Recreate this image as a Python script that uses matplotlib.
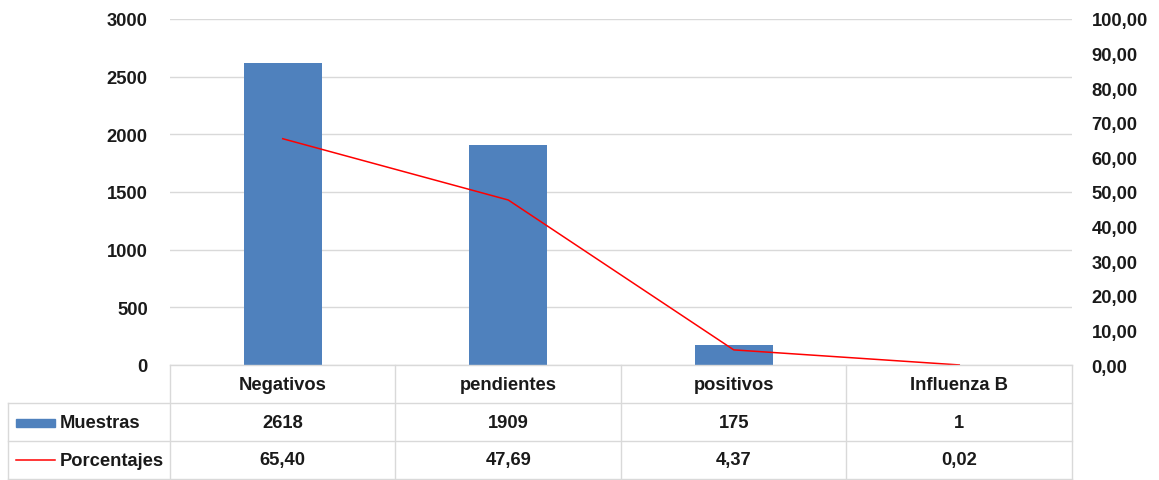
import matplotlib
matplotlib.use("Agg")
import matplotlib.pyplot as plt
from matplotlib.patches import Rectangle
from matplotlib.ticker import FuncFormatter, MultipleLocator

categories = ["Negativos", "pendientes", "positivos", "Influenza B"]
muestras = [2618, 1909, 175, 1]
porcentajes = [65.40, 47.69, 4.37, 0.02]
muestras_labels = ["2618", "1909", "175", "1"]
porcentajes_labels = ["65,40", "47,69", "4,37", "0,02"]
series_names = ["Muestras", "Porcentajes"]

W, H = 1159, 481
plt.rcParams['font.family'] = ['Liberation Sans', 'DejaVu Sans']
fig = plt.figure(figsize=(W / 100, H / 100), dpi=100)

px_l, px_r, px_t, px_b = 170, 1072, 20, 366
ax = fig.add_axes([px_l / W, 1 - px_b / H, (px_r - px_l) / W, (px_b - px_t) / H])
x = list(range(len(categories)))
bar_color = "#4F81BD"
line_color = "#FF0000"
grid_color = "#D9D9D9"
txt_color = "#1a1a1a"
fs = 13.2

ax.bar(x, muestras, width=0.345, color=bar_color, zorder=3)
ax.set_xlim(-0.5, len(categories) - 0.5)
ax.set_ylim(0, 3000)
ax.yaxis.set_major_locator(MultipleLocator(500))
ax.grid(axis="y", color=grid_color, linewidth=1, zorder=0)
ax.set_xticks([])
for s in ax.spines.values():
    s.set_visible(False)
ax.tick_params(axis="y", length=0, pad=16, labelsize=fs, labelcolor=txt_color)
for lbl in ax.get_yticklabels():
    lbl.set_fontweight("bold")

ax2 = ax.twinx()
ax2.plot(x, porcentajes, color=line_color, linewidth=1.1, zorder=4)
ax2.set_ylim(0, 100)
ax2.yaxis.set_major_locator(MultipleLocator(10))
ax2.yaxis.set_major_formatter(FuncFormatter(lambda v, p: f"{v:.2f}".replace(".", ",")))
for s in ax2.spines.values():
    s.set_visible(False)
ax2.tick_params(axis="y", length=0, pad=14, labelsize=fs, labelcolor=txt_color)
for lbl in ax2.get_yticklabels():
    lbl.set_fontweight("bold")

# Data table
tbl_l, tbl_t, tbl_b = 8, 366, 480
colw = (px_r - px_l) / len(categories)
x0 = -0.5 - (px_l - tbl_l) / colw
tax = fig.add_axes([tbl_l / W, 1 - tbl_b / H, (px_r - tbl_l) / W, (tbl_b - tbl_t) / H])
tax.set_xlim(x0, len(categories) - 0.5)
tax.set_ylim(3, 0)
tax.axis("off")

lw = 1
tax.plot([-0.5, len(categories) - 0.5], [0, 0], color=grid_color, lw=lw, clip_on=False)
for yy in [1, 2, 3]:
    tax.plot([x0, len(categories) - 0.5], [yy, yy], color=grid_color, lw=lw, clip_on=False)
for i in range(len(categories) + 1):
    tax.plot([i - 0.5, i - 0.5], [0, 3], color=grid_color, lw=lw, clip_on=False)
tax.plot([x0, x0], [1, 3], color=grid_color, lw=lw, clip_on=False)

for i, c in enumerate(categories):
    tax.text(i, 0.5, c, ha="center", va="center", fontsize=fs, fontweight="bold", color=txt_color)
    tax.text(i, 1.5, muestras_labels[i], ha="center", va="center", fontsize=fs, fontweight="bold", color=txt_color)
    tax.text(i, 2.5, porcentajes_labels[i], ha="center", va="center", fontsize=fs, fontweight="bold", color=txt_color)

key_x0 = x0 + 8 / colw
key_x1 = x0 + 47 / colw
tax.add_patch(Rectangle((key_x0, 1.42), key_x1 - key_x0, 0.2, color=bar_color, clip_on=False))
tax.plot([key_x0, key_x1], [2.5, 2.5], color=line_color, lw=1.1, clip_on=False)
tax.text(x0 + 52 / colw, 1.5, series_names[0], ha="left", va="center", fontsize=fs, fontweight="bold", color=txt_color)
tax.text(x0 + 52 / colw, 2.5, series_names[1], ha="left", va="center", fontsize=fs, fontweight="bold", color=txt_color)

fig.savefig("out.png", dpi=100, facecolor="white")
